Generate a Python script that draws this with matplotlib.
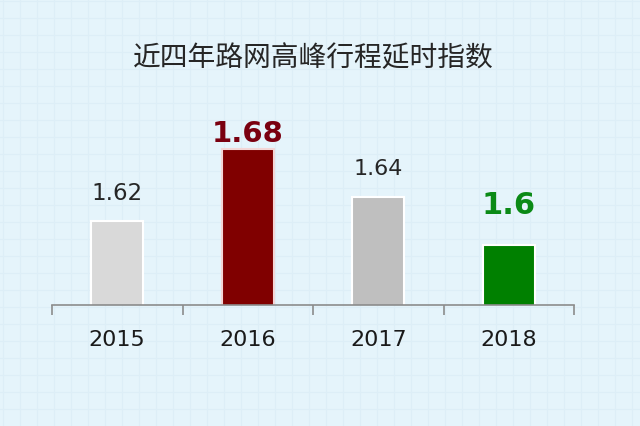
import numpy as np
import matplotlib
matplotlib.use("Agg")
import matplotlib.pyplot as plt

plt.rcParams['font.family'] = ['DejaVu Sans', 'Noto Sans CJK SC']

title = "近四年路网高峰行程延时指数"
years = ["2015", "2016", "2017", "2018"]
values = [1.62, 1.68, 1.64, 1.60]
value_labels = ["1.62", "1.68", "1.64", "1.6"]

bar_colors = ["#d9d9d9", "#800000", "#bfbfbf", "#008000"]
label_colors = ["#262626", "#7a0010", "#262626", "#0b8a16"]
label_sizes = [16.5, 21, 16, 22]
label_weights = ["normal", "bold", "normal", "bold"]
label_pads = [15, 5, 16, 22]

bg = "#e5f4fb"
fig = plt.figure(figsize=(6.4, 4.26), dpi=100, facecolor=bg)

# faint background grid
bgax = fig.add_axes([0, 0, 1, 1], zorder=-1)
bgax.set_xlim(0, 640)
bgax.set_ylim(426, 0)
bgax.set_facecolor(bg)
for s in np.arange(3, 640, 17):
    bgax.axvline(s, color="#ddeef7", lw=0.8)
for s in np.arange(1, 426, 17):
    bgax.axhline(s, color="#ddeef7", lw=0.8)
bgax.axis("off")

ax = fig.add_axes([52 / 640, 121 / 426, 522 / 640, 225 / 426])
ax.patch.set_alpha(0)
x = np.arange(len(years))
bars = ax.bar(x, values, width=0.4, color=bar_colors, edgecolor="white", linewidth=1.5)
bars[1].set_edgecolor("#f3d6d6")

ax.set_xlim(-0.5, len(years) - 0.5)
ax.set_ylim(1.55, 1.55 + 225 / 1200)

for i, b in enumerate(bars):
    ax.annotate(value_labels[i], (b.get_x() + b.get_width() / 2, b.get_height()),
                xytext=(0, label_pads[i]), textcoords="offset points",
                ha="center", va="baseline", fontsize=label_sizes[i],
                color=label_colors[i], fontweight=label_weights[i])

for s in ["left", "right", "top"]:
    ax.spines[s].set_visible(False)
ax.spines["bottom"].set_color("#8c8c8c")
ax.spines["bottom"].set_linewidth(1.2)
ax.set_yticks([])

ax.set_xticks(np.arange(-0.5, len(years), 1.0))
ax.set_xticklabels([])
ax.tick_params(axis="x", which="major", direction="out", length=7, width=1.2, color="#8c8c8c")
ax.set_xticks(x, minor=True)
ax.set_xticklabels(years, minor=True, fontsize=16, color="#1a1a1a")
ax.tick_params(axis="x", which="minor", length=0, pad=18)

fig.text(313 / 640, 1 - 58 / 426, title, ha="center", va="center", fontsize=20,
         color="#262626", family=["Noto Sans CJK SC"], fontweight="medium")

fig.savefig("out.png", dpi=100, facecolor=bg)
